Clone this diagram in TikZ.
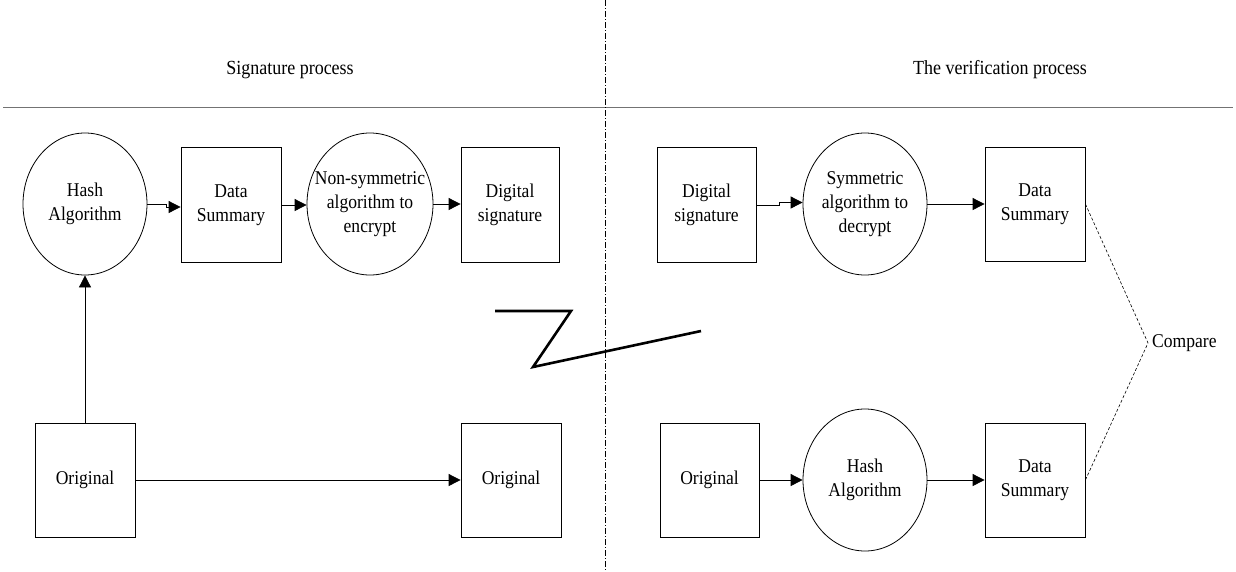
\documentclass[tikz,border=0pt]{standalone}
\usepackage{fontspec}
\setmainfont[FakeStretch=0.9]{Liberation Serif}
\usetikzlibrary{arrows.meta,shapes.geometric}

\begin{document}
\begin{tikzpicture}[x=1pt,y=-1pt,
  every node/.style={font=\fontsize{19.5}{24}\selectfont, align=center},
  stepbox/.style={draw, line width=0.8pt, rectangle, inner sep=0pt,
    minimum width=100pt, minimum height=115pt},
  oval/.style={draw, line width=0.8pt, ellipse, inner sep=0pt,
    minimum width=124pt, minimum height=142pt},
  flow/.style={line width=0.8pt, -{Triangle[length=12pt,width=12pt]}},
  cmp/.style={line width=0.6pt, dash pattern=on 3pt off 2pt},
  title/.style={font=\fontsize{20}{24}\selectfont}
]
\useasboundingbox (0,0) rectangle (1236,571);

% section headings and dividers
\node[title] (tsig) at (290,70) {Signature process};
\node[title] (tver) at (1000,70) {The verification process};
\draw[black!55, line width=1pt, dash pattern=on 0.5pt off 0.5pt] (3,107) -- (1233,107);
\draw[line width=0.6pt, dash pattern=on 6pt off 2pt on 1pt off 2pt] (605,0) -- (605,571);

% signing side
\node[oval] (hashL) at (85,204) {};
\node (hashLt) at (hashL) {Hash\\Algorithm};
\node[stepbox] (dsL) at (231,205) {Data\\Summary};
\node[oval, minimum width=126pt] (nsym) at (370,204) {};
\node (nsymt) at (nsym) {Non-symmetric\\algorithm to\\encrypt};
\node[stepbox, minimum width=98pt] (sigL) at (510,205) {Digital\\signature};
\node[stepbox, minimum height=114pt] (origL) at (85,480) {Original};
\node[stepbox, minimum height=114pt] (origL2) at (511,480) {Original};

\draw[flow] (hashL.east) -- ++(19,0) |- ([yshift=-2pt]dsL.west);
\draw[flow] (dsL.east) -- (nsym.west |- dsL.east);
\draw[flow] (nsym.east) -- (nsym.east -| sigL.west);
\draw[flow] (origL.north) -- (hashL.south);
\draw[flow] (origL.east) -- (origL2.west);

% transmission channel
\draw[line width=2.6pt, line join=miter]
  (495,311) -- (571,311) -- (533,367) -- (701,331);

% verifying side
\node[stepbox, minimum width=99pt] (sigR) at (706.5,205) {Digital\\signature};
\node[oval] (sym) at (865,204) {};
\node (symt) at (sym) {Symmetric\\algorithm to\\decrypt};
\node[stepbox, minimum height=114pt] (dsR1) at (1035,204) {Data\\Summary};
\node[stepbox, minimum width=99pt, minimum height=114pt] (origR) at (709.5,480) {Original};
\node[oval] (hashR) at (865,480) {};
\node (hashRt) at (hashR) {Hash\\Algorithm};
\node[stepbox, minimum height=114pt] (dsR2) at (1035,480) {Data\\Summary};

\draw[flow] (sigR.east) -- ++(23,0) |- ([yshift=1.5pt]sym.west);
\draw[flow] (sym.east) -- (dsR1.west);
\draw[flow] (origR.east) -- (hashR.west);
\draw[flow] (hashR.east) -- (dsR2.west);

% comparison of the two summaries
\coordinate (cv) at (1148,343);
\node[anchor=west, inner sep=0pt] (cmpt) at (1152,343) {Compare};
\draw[cmp] (dsR1.east) -- (cv) -- (dsR2.east);
\end{tikzpicture}
\end{document}
